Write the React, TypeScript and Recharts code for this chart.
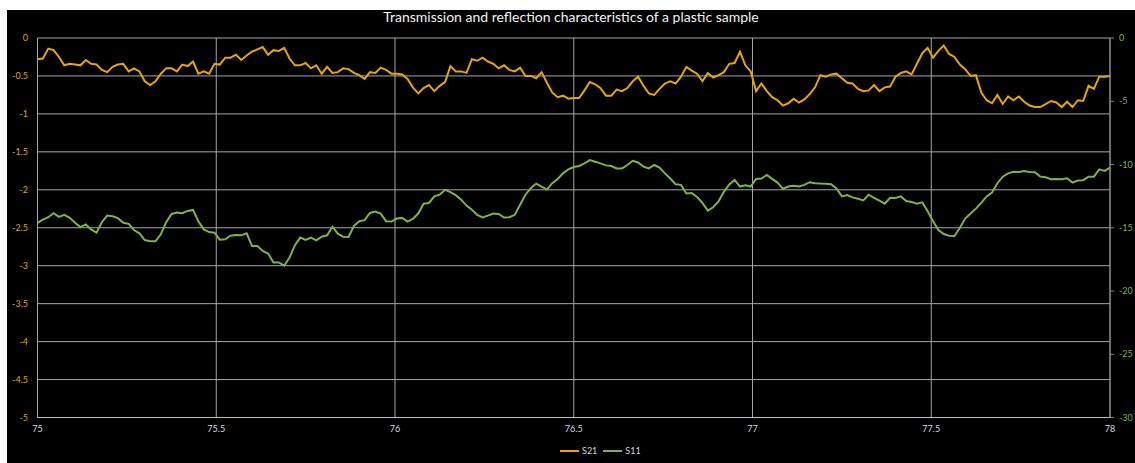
import { CartesianGrid, Legend, Line, LineChart, XAxis, YAxis } from "recharts";

// sweep grid: 75 → 78 GHz, 201 points
const sweepStart = 75;
const sweepStep = 0.015;
const sweepCount = 201;
const freq = Array.from({ length: sweepCount }, (_, i) =>
  Number((sweepStart + i * sweepStep).toFixed(3))
);

// S21 (left axis)
const s21 = [
  -0.28, -0.27, -0.14, -0.16, -0.25, -0.36, -0.34, -0.35, -0.36, -0.29,
  -0.34, -0.35, -0.42, -0.45, -0.38, -0.35, -0.34, -0.44, -0.4, -0.44,
  -0.57, -0.62, -0.57, -0.47, -0.4, -0.4, -0.44, -0.35, -0.37, -0.31,
  -0.47, -0.44, -0.47, -0.34, -0.35, -0.26, -0.26, -0.22, -0.29, -0.23,
  -0.18, -0.15, -0.12, -0.22, -0.16, -0.17, -0.13, -0.27, -0.36, -0.36,
  -0.33, -0.4, -0.36, -0.47, -0.38, -0.46, -0.45, -0.4, -0.41, -0.46,
  -0.49, -0.54, -0.45, -0.46, -0.39, -0.42, -0.47, -0.47, -0.48, -0.54,
  -0.65, -0.73, -0.66, -0.62, -0.7, -0.63, -0.58, -0.37, -0.44, -0.44,
  -0.46, -0.28, -0.3, -0.26, -0.31, -0.34, -0.4, -0.36, -0.42, -0.44,
  -0.39, -0.5, -0.5, -0.53, -0.45, -0.59, -0.72, -0.78, -0.76, -0.8,
  -0.79, -0.79, -0.69, -0.58, -0.61, -0.66, -0.76, -0.76, -0.68, -0.7,
  -0.66, -0.57, -0.51, -0.63, -0.73, -0.75, -0.67, -0.6, -0.57, -0.6,
  -0.51, -0.38, -0.43, -0.47, -0.57, -0.46, -0.52, -0.49, -0.45, -0.34,
  -0.33, -0.18, -0.36, -0.44, -0.7, -0.6, -0.7, -0.78, -0.82, -0.89,
  -0.86, -0.8, -0.85, -0.81, -0.74, -0.65, -0.49, -0.51, -0.48, -0.47,
  -0.53, -0.59, -0.6, -0.67, -0.7, -0.69, -0.62, -0.7, -0.65, -0.64,
  -0.51, -0.46, -0.44, -0.48, -0.34, -0.2, -0.13, -0.26, -0.17, -0.1,
  -0.21, -0.25, -0.35, -0.41, -0.5, -0.49, -0.72, -0.82, -0.86, -0.75,
  -0.87, -0.77, -0.82, -0.77, -0.84, -0.89, -0.91, -0.91, -0.87, -0.83,
  -0.85, -0.91, -0.84, -0.91, -0.82, -0.83, -0.63, -0.67, -0.51, -0.51,
  -0.5,
];

// S11 (right axis)
const s11 = [
  -14.61, -14.35, -14.17, -13.85, -14.14, -13.98, -14.22, -14.61, -14.95, -14.74,
  -15.13, -15.39, -14.56, -14.04, -14.09, -14.24, -14.61, -14.69, -15.18, -15.44,
  -15.97, -16.07, -16.07, -15.52, -14.56, -13.91, -13.8, -13.85, -13.67, -13.59,
  -14.48, -15.13, -15.34, -15.39, -15.94, -15.91, -15.63, -15.58, -15.6, -15.44,
  -16.44, -16.44, -16.83, -17.04, -17.74, -17.74, -18.0, -17.35, -16.38, -15.78,
  -15.97, -15.78, -15.99, -15.71, -15.6, -14.92, -15.47, -15.71, -15.73, -14.87,
  -14.48, -14.4, -13.83, -13.72, -13.88, -14.48, -14.51, -14.27, -14.22, -14.51,
  -14.3, -13.88, -13.1, -13.04, -12.52, -12.39, -12.0, -12.18, -12.42, -12.78,
  -13.25, -13.57, -13.98, -14.19, -14.04, -13.88, -13.91, -14.19, -14.17, -13.98,
  -13.18, -12.39, -11.87, -11.51, -11.74, -11.98, -11.48, -11.14, -10.7, -10.38,
  -10.2, -10.12, -9.91, -9.65, -9.78, -9.91, -10.07, -10.12, -10.31, -10.31,
  -10.04, -9.71, -9.84, -10.17, -10.31, -10.04, -10.25, -10.7, -11.11, -11.56,
  -11.61, -12.29, -12.26, -12.57, -13.04, -13.64, -13.38, -12.91, -12.16, -11.58,
  -11.22, -11.74, -11.64, -11.74, -11.14, -11.11, -10.83, -11.14, -11.43, -11.92,
  -11.74, -11.69, -11.74, -11.61, -11.4, -11.48, -11.51, -11.53, -11.56, -11.9,
  -12.52, -12.42, -12.6, -12.71, -12.84, -12.39, -12.63, -12.86, -13.1, -12.63,
  -12.65, -12.52, -12.89, -12.97, -13.1, -12.99, -13.7, -14.48, -15.18, -15.5,
  -15.63, -15.65, -15.0, -14.27, -13.88, -13.49, -13.04, -12.52, -12.21, -11.48,
  -10.96, -10.7, -10.57, -10.59, -10.51, -10.59, -10.62, -10.96, -11.01, -11.17,
  -11.14, -11.17, -11.09, -11.43, -11.27, -11.24, -10.96, -10.96, -10.38, -10.51,
  -10.25,
];

const xTicks = [75, 75.5, 76, 76.5, 77, 77.5, 78];
const leftTicks = [0, -0.5, -1, -1.5, -2, -2.5, -3, -3.5, -4, -4.5, -5];
const rightTicks = [0, -5, -10, -15, -20, -25, -30];

const seriesNames = ["S21", "S11"];
const seriesColors = ["#E8A600", "#7DB542"];

const data = freq.map((f, i) => ({ f, s21: s21[i], s11: s11[i] }));

const font = "Lato, 'Open Sans', sans-serif";

function LegendBox() {
  return (
    <div
      style={{
        display: "flex",
        fontFamily: font,
        fontSize: 9,
        color: "#d9d9d9",
        lineHeight: "11px",
      }}
    >
      {seriesNames.map((name, i) => (
        <span
          key={name}
          style={{ display: "flex", alignItems: "center", marginRight: 6 }}
        >
          <span
            style={{
              display: "inline-block",
              width: 19,
              height: 2,
              background: seriesColors[i],
              marginRight: 3,
            }}
          />
          {name}
        </span>
      ))}
    </div>
  );
}

export default function App() {
  return (
    <div
      style={{
        position: "absolute",
        left: 7,
        top: 10,
        width: 1128,
        height: 453,
        background: "#000",
      }}
    >
      <div
        style={{
          position: "absolute",
          top: -1,
          left: 0,
          width: 1128,
          textAlign: "center",
          fontFamily: font,
          fontSize: 14,
          lineHeight: "16px",
          color: "#f2f2f2",
          zIndex: 1,
        }}
      >
        Transmission and reflection characteristics of a plastic sample
      </div>
      <LineChart
        data={data}
        height={453}
        margin={{ top: 28, right: 0, bottom: 0, left: 0 }}
        width={1128}
      >
        <CartesianGrid stroke="#a6a6a6" yAxisId="left" />
        <XAxis
          axisLine={{ stroke: "#bfbfbf" }}
          dataKey="f"
          domain={[75, 78]}
          height={45.5}
          tick={{ fill: "#d6dde8", fontSize: 9, fontFamily: font }}
          tickLine={false}
          ticks={xTicks}
          type="number"
        />
        <YAxis
          axisLine={{ stroke: "#a6a6a6" }}
          domain={[-5, 0]}
          tick={{ fill: "#E3A21A", fontSize: 9, fontFamily: font }}
          tickLine={false}
          tickMargin={3.5}
          ticks={leftTicks}
          width={30.5}
          yAxisId="left"
        />
        <YAxis
          axisLine={{ stroke: "#868686" }}
          domain={[-30, 0]}
          orientation="right"
          tick={{ fill: "#78B43C", fontSize: 9, fontFamily: font }}
          tickLine={{ stroke: "#868686" }}
          tickMargin={5}
          tickSize={4}
          ticks={rightTicks}
          width={25}
          yAxisId="right"
        />
        <Line
          dataKey="s21"
          dot={false}
          isAnimationActive={false}
          name="S21"
          stroke={seriesColors[0]}
          strokeWidth={2}
          type="linear"
          yAxisId="left"
        />
        <Line
          dataKey="s11"
          dot={false}
          isAnimationActive={false}
          name="S11"
          stroke={seriesColors[1]}
          strokeWidth={2}
          type="linear"
          yAxisId="right"
        />
        <Legend
          content={() => <LegendBox />}
          verticalAlign="middle"
          wrapperStyle={{ top: 435, left: 553, width: "auto" }}
        />
      </LineChart>
    </div>
  );
}
